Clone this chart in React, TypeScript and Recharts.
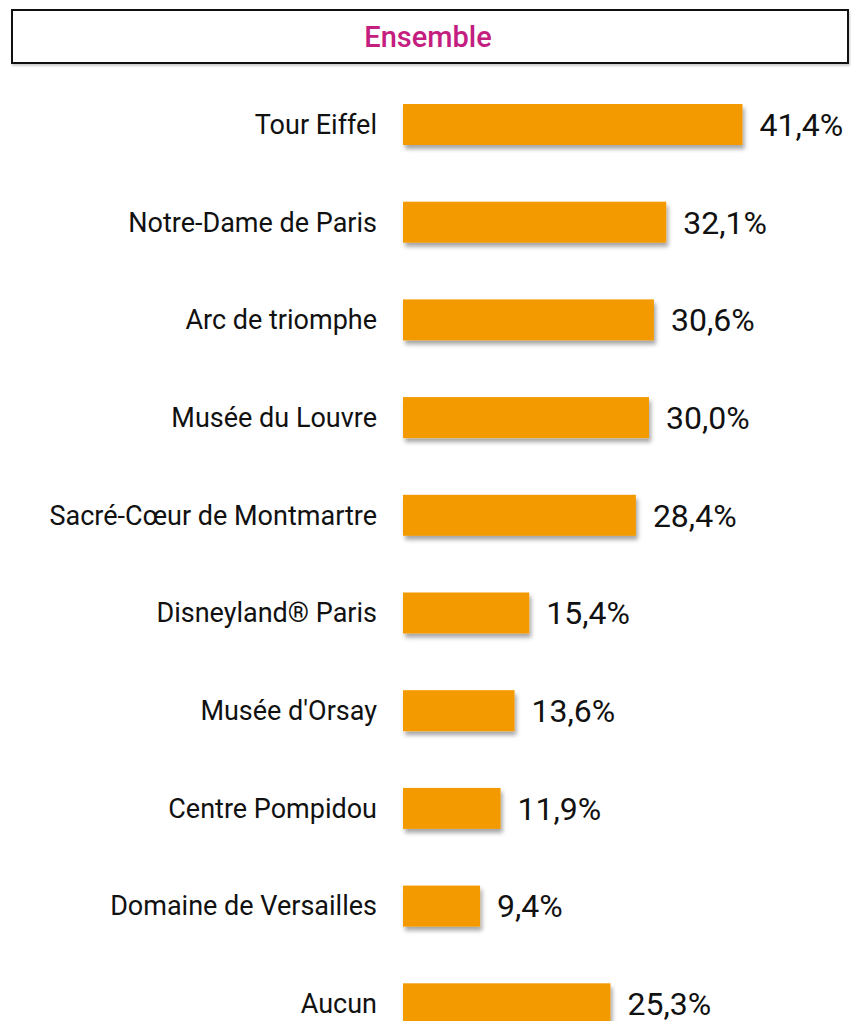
import React from "react";
import { Bar, BarChart, LabelList, XAxis, YAxis } from "recharts";

const sites = [
  "Tour Eiffel",
  "Notre-Dame de Paris",
  "Arc de triomphe",
  "Musée du Louvre",
  "Sacré-Cœur de Montmartre",
  "Disneyland® Paris",
  "Musée d'Orsay",
  "Centre Pompidou",
  "Domaine de Versailles",
  "Aucun",
];

const shares = [41.4, 32.1, 30.6, 30.0, 28.4, 15.4, 13.6, 11.9, 9.4, 25.3];

const data = sites.map((name, i) => ({ name, value: shares[i] }));

const ORANGE = "#F39A00";
const FONT = "Roboto, 'Noto Sans', sans-serif";

const fmt = (v: any) => `${Number(v).toFixed(1).replace(".", ",")}%`;

const SiteTick = (props: any) => {
  const { y, payload } = props;
  return (
    <text
      x={377}
      y={y}
      textAnchor="end"
      dominantBaseline="central"
      fontSize={27}
      fontFamily={FONT}
      fill="#111"
    >
      {payload.value}
    </text>
  );
};

const ShadowBar = (props: any) => {
  const { x, y, width, height } = props;
  return (
    <rect
      x={x}
      y={y}
      width={width}
      height={height}
      fill={ORANGE}
      filter="url(#barShadow)"
    />
  );
};

export default function App() {
  return (
    <div
      style={{
        position: "absolute",
        left: 0,
        top: 0,
        width: 861,
        height: 1021,
        overflow: "hidden",
        background: "#fff",
      }}
    >
      <div
        style={{
          position: "absolute",
          left: 11,
          top: 9,
          width: 830,
          height: 51,
          border: "2px solid #111",
          boxShadow: "1px 2px 2px rgba(0,0,0,0.2)",
          display: "flex",
          alignItems: "center",
          justifyContent: "center",
          fontFamily: FONT,
          fontSize: 29,
          fontWeight: 500,
          color: "#C41E80",
          paddingRight: 4,
        }}
      >
        Ensemble
      </div>
      <div style={{ position: "absolute", left: 0, top: 0 }}>
        <BarChart
          width={861}
          height={1021}
          data={data}
          layout="vertical"
          margin={{ top: 76, right: 48, bottom: -32, left: 0 }}
          barCategoryGap={28}
        >
          <defs>
            <filter id="barShadow" x="-5%" y="-30%" width="115%" height="170%">
              <feDropShadow
                dx={2}
                dy={4}
                stdDeviation={2}
                floodColor="#000"
                floodOpacity={0.35}
              />
            </filter>
          </defs>
          <XAxis type="number" domain={[0, 50]} hide />
          <YAxis
            type="category"
            dataKey="name"
            width={403}
            axisLine={false}
            tickLine={false}
            tick={<SiteTick />}
            interval={0}
          />
          <Bar
            dataKey="value"
            barSize={41}
            shape={<ShadowBar />}
            isAnimationActive={false}
          >
            <LabelList
              dataKey="value"
              position="right"
              offset={17}
              formatter={fmt}
              style={{ fontSize: 32, fontFamily: FONT, fill: "#111" }}
            />
          </Bar>
        </BarChart>
      </div>
    </div>
  );
}
